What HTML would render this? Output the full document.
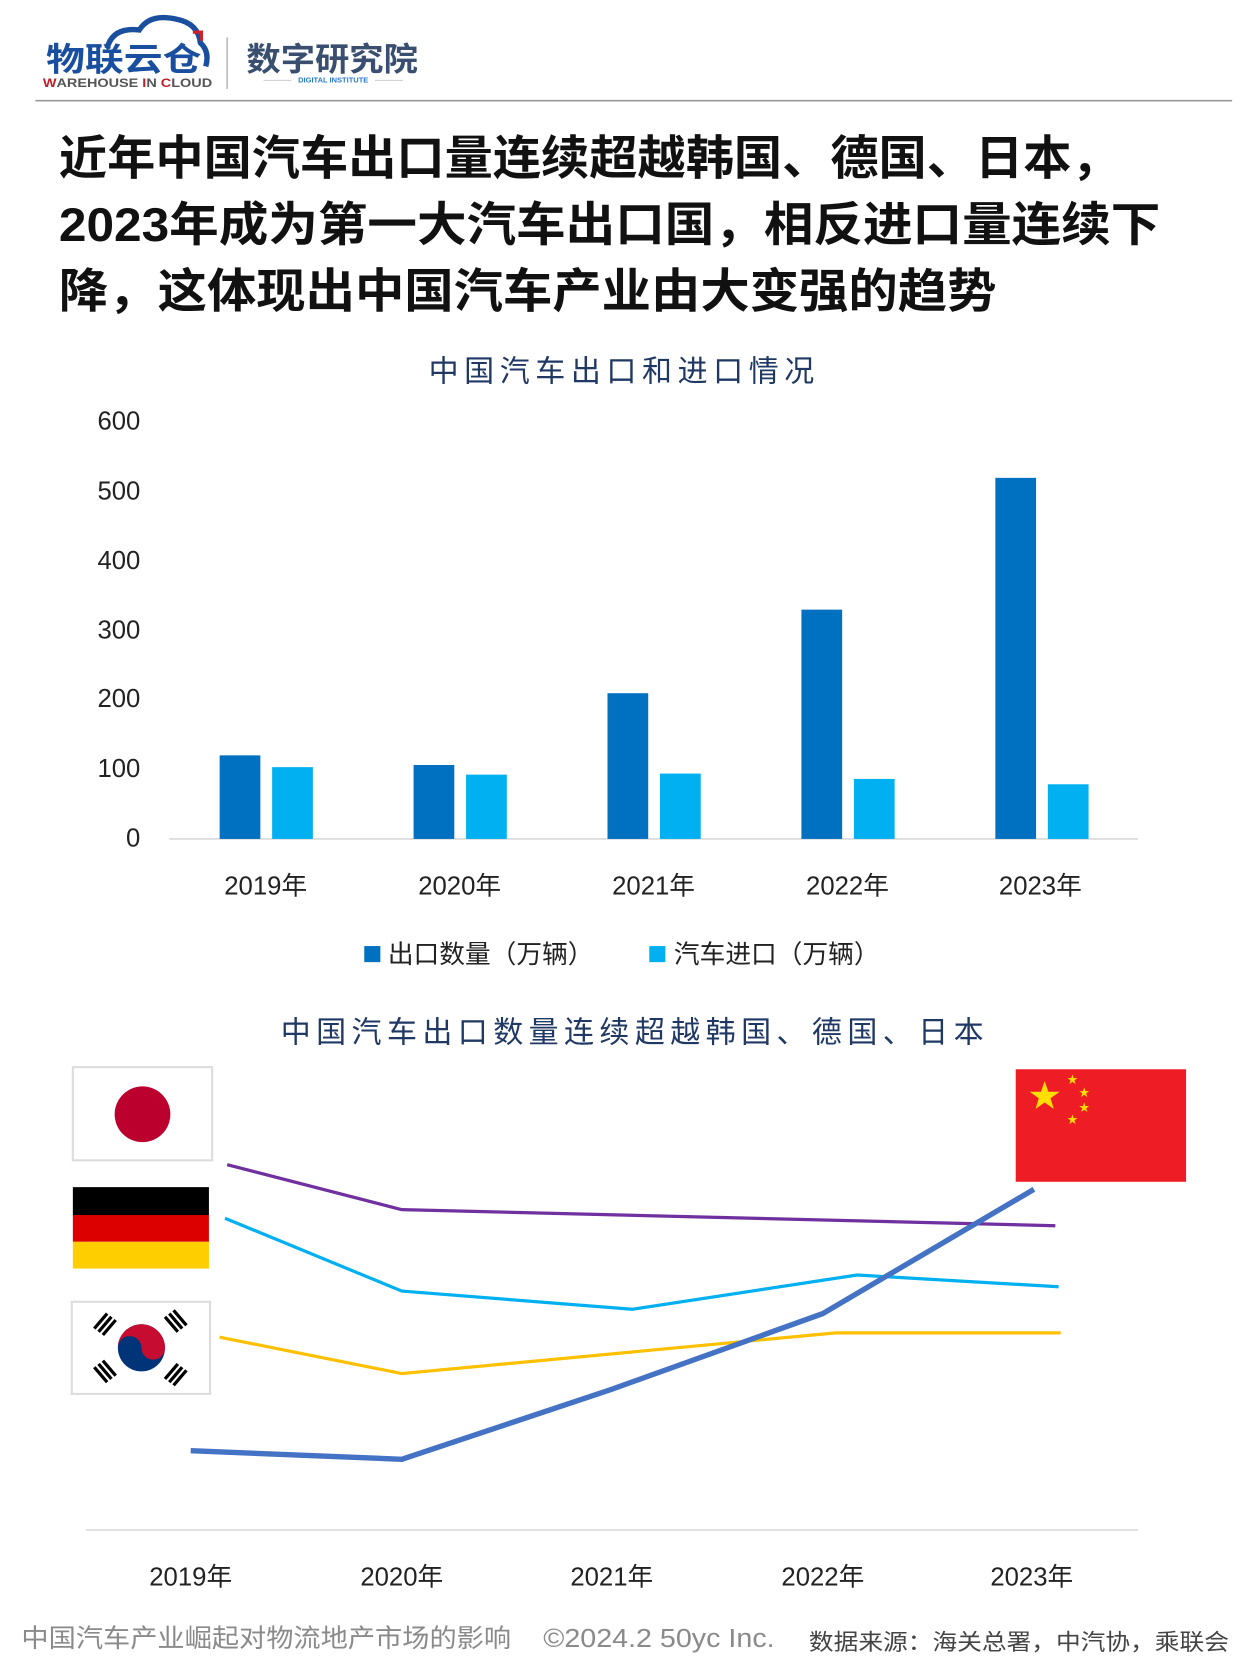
<!DOCTYPE html>
<html><head><meta charset="utf-8"><style>
html,body{margin:0;padding:0;background:#fff;}
svg{display:block;}
text{font-family:"Liberation Sans","Noto Sans CJK SC",sans-serif;}
</style></head><body>
<svg width="1260" height="1680" viewBox="0 0 1176 1568" xmlns="http://www.w3.org/2000/svg">
<rect width="1176" height="1568" fill="#fff"/>
<!-- logo -->
<path d="M100 45 Q105 25 130 28 Q140 12 165 18 Q185 22 187 40 Q196 48 192 62" fill="none" stroke="#1a4fa0" stroke-width="5"/>
<path d="M180 30 h8 v8" fill="none" stroke="#d0202a" stroke-width="3"/>
<text x="43" y="66" font-size="30" font-weight="bold" fill="#1a4fa0" textLength="145" lengthAdjust="spacingAndGlyphs">物联云仓</text>
<text x="40" y="81" font-size="11" font-weight="bold" fill="#555" textLength="158" lengthAdjust="spacingAndGlyphs"><tspan fill="#c0202a">W</tspan>AREHOUSE <tspan fill="#c0202a">I</tspan>N <tspan fill="#c0202a">C</tspan>LOUD</text>
<line x1="212" y1="35" x2="212" y2="83" stroke="#bbb" stroke-width="1.5"/>
<text x="230" y="66" font-size="30" font-weight="bold" fill="#3a4f70" textLength="160" lengthAdjust="spacingAndGlyphs">数字研究院</text>
<line x1="246" y1="75" x2="272" y2="75" stroke="#ccc"/>
<line x1="350" y1="75" x2="376" y2="75" stroke="#ccc"/>
<text x="311" y="77" font-size="7" font-weight="bold" fill="#2a7ad0" text-anchor="middle">DIGITAL INSTITUTE</text>
<line x1="33" y1="94" x2="1150" y2="94" stroke="#999" stroke-width="1.5"/>
<!-- title -->
<g font-size="44" font-weight="bold" fill="#111">
<text x="55" y="163" textLength="990" lengthAdjust="spacingAndGlyphs">近年中国汽车出口量连续超越韩国、德国、日本，</text>
<text x="55" y="225" textLength="1028" lengthAdjust="spacingAndGlyphs">2023年成为第一大汽车出口国，相反进口量连续下</text>
<text x="55" y="287" textLength="875" lengthAdjust="spacingAndGlyphs">降，这体现出中国汽车产业由大变强的趋势</text>
</g>
<!-- chart1 -->
<text x="400" y="356" font-size="28" fill="#1f3864" textLength="360" lengthAdjust="spacing">中国汽车出口和进口情况</text>
<g font-size="24" fill="#222" text-anchor="end">
<text x="131" y="401">600</text><text x="131" y="466">500</text><text x="131" y="531">400</text>
<text x="131" y="596">300</text><text x="131" y="660">200</text><text x="131" y="725">100</text><text x="131" y="790">0</text>
</g>
<line x1="158" y1="783" x2="1062" y2="783" stroke="#d9d9d9" stroke-width="1.5"/>
<g fill="#0070c0">
<rect x="205" y="705" width="38" height="78"/><rect x="386" y="714" width="38" height="69"/>
<rect x="567" y="647" width="38" height="136"/><rect x="748" y="569" width="38" height="214"/>
<rect x="929" y="446" width="38" height="337"/>
</g>
<g fill="#00b0f0">
<rect x="254" y="716" width="38" height="67"/><rect x="435" y="723" width="38" height="60"/>
<rect x="616" y="722" width="38" height="61"/><rect x="797" y="727" width="38" height="56"/>
<rect x="978" y="732" width="38" height="51"/>
</g>
<g font-size="24" fill="#222" text-anchor="middle">
<text x="248" y="835">2019年</text><text x="429" y="835">2020年</text><text x="610" y="835">2021年</text>
<text x="791" y="835">2022年</text><text x="971" y="835">2023年</text>
</g>
<rect x="340" y="883" width="15" height="15" fill="#0070c0"/>
<text x="362" y="899" font-size="24" fill="#222">出口数量（万辆）</text>
<rect x="606" y="883" width="15" height="15" fill="#00b0f0"/>
<text x="629" y="899" font-size="24" fill="#222">汽车进口（万辆）</text>
<!-- chart2 -->
<text x="262" y="973" font-size="28" fill="#1f3864" textLength="656" lengthAdjust="spacing">中国汽车出口数量连续超越韩国、德国、日本</text>
<!-- Japan -->
<rect x="68" y="996" width="130" height="87" fill="#fff" stroke="#ddd" stroke-width="2"/>
<circle cx="133" cy="1040" r="26" fill="#bc002d"/>
<!-- Germany -->
<rect x="68" y="1108" width="127" height="26" fill="#000"/>
<rect x="68" y="1134" width="127" height="25" fill="#dd0000"/>
<rect x="68" y="1159" width="127" height="25" fill="#ffce00"/>
<!-- Korea -->
<rect x="67" y="1215" width="129" height="86" fill="#fff" stroke="#ddd" stroke-width="2"/>
<circle cx="132" cy="1258" r="22" fill="#003478"/>
<path d="M110 1258 A22 22 0 0 1 154 1258 A11 11 0 0 1 132 1258 A11 11 0 0 0 110 1258Z" fill="#c60c30"/>
<g stroke="#000" stroke-width="3">
<path d="M88 1240 l12 -14 M92 1243 l12 -14 M96 1246 l12 -14"/>
<path d="M158 1226 l12 14 M162 1223 l12 14 M154 1229 l12 14"/>
<path d="M88 1276 l12 14 M92 1273 l12 14 M96 1270 l12 14"/>
<path d="M158 1290 l12 -14 M162 1293 l12 -14 M154 1287 l12 -14"/>
</g>
<!-- China -->
<rect x="948" y="998" width="159" height="105" fill="#ee1c25"/>
<polygon points="975,1009 978.5,1019 989,1019 980.5,1025 983.5,1035 975,1029 966.5,1035 969.5,1025 961,1019 971.5,1019" fill="#ffde00"/>
<g fill="#ffde00" font-size="10" text-anchor="middle"><text x="1001" y="1011">★</text><text x="1012" y="1023">★</text><text x="1012" y="1037">★</text><text x="1001" y="1048">★</text></g>
<!-- lines -->
<g fill="none" stroke-linejoin="round">
<polyline points="212,1087 375,1129 985,1144" stroke="#7030a0" stroke-width="3"/>
<polyline points="210,1137 375,1205 590,1222 800,1190 988,1201" stroke="#00b0f0" stroke-width="3"/>
<polyline points="205,1248 375,1282 780,1244 990,1244" stroke="#ffc000" stroke-width="3"/>
<polyline points="178,1354 375,1362 570,1297 768,1226 965,1110" stroke="#4472c4" stroke-width="5"/>
</g>
<line x1="80" y1="1428" x2="1062" y2="1428" stroke="#d9d9d9" stroke-width="1.5"/>
<g font-size="24" fill="#222" text-anchor="middle">
<text x="178" y="1480">2019年</text><text x="375" y="1480">2020年</text><text x="571" y="1480">2021年</text>
<text x="768" y="1480">2022年</text><text x="963" y="1480">2023年</text>
</g>
<!-- footer -->
<text x="20" y="1537" font-size="24" fill="#8a8a8a" textLength="457" lengthAdjust="spacingAndGlyphs">中国汽车产业崛起对物流地产市场的影响</text>
<text x="507" y="1537" font-size="24" fill="#8a8a8a" textLength="216" lengthAdjust="spacingAndGlyphs">©2024.2 50yc Inc.</text>
<text x="755" y="1540" font-size="21" fill="#444" textLength="392" lengthAdjust="spacingAndGlyphs">数据来源：海关总署，中汽协，乘联会</text>
</svg>
</body></html>
